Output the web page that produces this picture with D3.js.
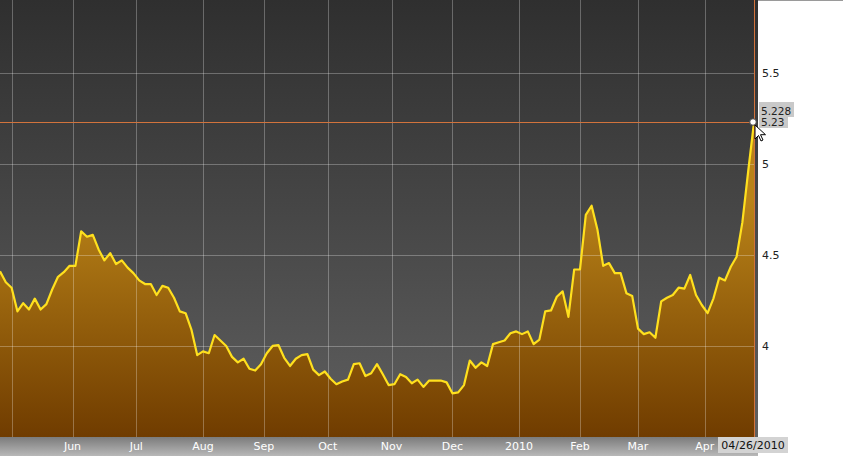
<!DOCTYPE html>
<html>
<head>
<meta charset="utf-8">
<script src="https://cdn.jsdelivr.net/npm/d3@7"></script>
<style>
  html, body { margin: 0; padding: 0; background: #ffffff; }
  svg { display: block; }
  text { font-family: "DejaVu Sans", Verdana, sans-serif; }
</style>
</head>
<body>
<svg id="chart" width="843" height="458"></svg>
<script>
// ---------- data ----------
const startDate = "2009-04-27";   // first trading day shown
const endDate = "2010-04-26";     // last trading day shown
const sampleStep = 2;             // trading days between consecutive values
const values = [
  4.41, 4.35, 4.32, 4.19, 4.235, 4.20, 4.26, 4.20, 4.23, 4.31,
  4.38, 4.405, 4.44, 4.44, 4.63, 4.60, 4.61, 4.53, 4.47, 4.51,
  4.45, 4.47, 4.43, 4.40, 4.36, 4.34, 4.34, 4.28, 4.33, 4.32,
  4.265, 4.19, 4.18, 4.09, 3.95, 3.97, 3.96, 4.06, 4.03, 4.00,
  3.94, 3.91, 3.93, 3.875, 3.865, 3.90, 3.96, 4.00, 4.005, 3.935,
  3.89, 3.93, 3.95, 3.955, 3.87, 3.84, 3.86, 3.82, 3.79, 3.805,
  3.815, 3.90, 3.905, 3.835, 3.85, 3.90, 3.845, 3.785, 3.79, 3.845,
  3.83, 3.795, 3.815, 3.775, 3.81, 3.81, 3.81, 3.80, 3.74, 3.745,
  3.785, 3.92, 3.88, 3.91, 3.89, 4.01, 4.02, 4.03, 4.07, 4.08,
  4.065, 4.08, 4.01, 4.035, 4.19, 4.195, 4.27, 4.30, 4.16, 4.42,
  4.42, 4.72, 4.77, 4.64, 4.44, 4.455, 4.40, 4.40, 4.29, 4.275,
  4.095, 4.065, 4.075, 4.045, 4.245, 4.265, 4.28, 4.32, 4.315, 4.39,
  4.28, 4.225, 4.18, 4.26, 4.375, 4.36, 4.435, 4.49, 4.68, 4.96,
  5.228
];
const monthTickDates = ["2009-05-01","2009-06-01","2009-07-01","2009-08-01","2009-09-01","2009-10-01",
                        "2009-11-01","2009-12-01","2010-01-01","2010-02-01","2010-03-01","2010-04-01"];
const monthTickLabels = ["", "Jun", "Jul", "Aug", "Sep", "Oct", "Nov", "Dec", "2010", "Feb", "Mar", "Apr"];
const yTicks = [4, 4.5, 5, 5.5];
const yTickLabels = ["4", "4.5", "5", "5.5"];
const lastValueLabel = "5.228";
const crosshairValue = 5.23;
const crosshairLabel = "5.23";
const crosshairDateLabel = "04/26/2010";

// ---------- helpers ----------
const parse = d3.timeParse("%Y-%m-%d");
const t0 = parse(startDate);
function tradingIndex(dateStr) {
  const d = parse(dateStr);
  return d3.timeDay.range(t0, d).filter(x => x.getDay() !== 0 && x.getDay() !== 6).length;
}

// ---------- layout ----------
const W = 843, H = 458;
const plotLeft = 0, plotRight = 754, plotTop = 0, plotBottom = 437;
const bgRight = 758;
const stripBottom = 456;

const svg = d3.select("#chart");
const defs = svg.append("defs");

const x = d3.scaleLinear().domain([0, tradingIndex(endDate)]).range([plotLeft, plotRight]);
const y = d3.scaleLinear().domain([3.5, 5.9]).range([plotBottom, plotTop]);

// gradients
const bgGrad = defs.append("linearGradient").attr("id", "bgGrad")
  .attr("x1", 0).attr("y1", 0).attr("x2", 0).attr("y2", 1);
bgGrad.append("stop").attr("offset", "0%").attr("stop-color", "#2f2f2f");
bgGrad.append("stop").attr("offset", "100%").attr("stop-color", "#5f5f5f");

const areaGrad = defs.append("linearGradient").attr("id", "areaGrad")
  .attr("gradientUnits", "userSpaceOnUse")
  .attr("x1", 0).attr("y1", 200).attr("x2", 0).attr("y2", plotBottom);
areaGrad.append("stop").attr("offset", "0%").attr("stop-color", "#b98318");
areaGrad.append("stop").attr("offset", "100%").attr("stop-color", "#703c00");

const stripGrad = defs.append("linearGradient").attr("id", "stripGrad")
  .attr("x1", 0).attr("y1", 0).attr("x2", 0).attr("y2", 1);
stripGrad.append("stop").attr("offset", "0%").attr("stop-color", "#7b7b7b");
stripGrad.append("stop").attr("offset", "100%").attr("stop-color", "#b8b8b8");

// background
svg.append("rect").attr("x", 0).attr("y", plotTop).attr("width", bgRight).attr("height", plotBottom - plotTop)
  .attr("fill", "url(#bgGrad)");
svg.append("line").attr("x1", bgRight).attr("x2", W).attr("y1", 0.5).attr("y2", 0.5)
  .attr("stroke", "#9a9a9a").attr("stroke-width", 1);

// area + line
const pts = values.map((v, k) => ({ i: k * sampleStep, v }));
const area = d3.area().x(d => x(d.i)).y0(plotBottom).y1(d => y(d.v));
const line = d3.line().x(d => x(d.i)).y(d => y(d.v));

svg.append("path").datum(pts).attr("d", area).attr("fill", "url(#areaGrad)");

// grid lines (over the area)
const grid = svg.append("g");
grid.selectAll("line.h").data(yTicks).join("line")
  .attr("x1", 0).attr("x2", plotRight)
  .attr("y1", d => Math.round(y(d)) + 0.5).attr("y2", d => Math.round(y(d)) + 0.5)
  .attr("stroke", "rgba(255,255,255,0.28)").attr("stroke-width", 1.2);
grid.selectAll("line.v").data(monthTickDates).join("line")
  .attr("x1", d => Math.round(x(tradingIndex(d))) + 0.5).attr("x2", d => Math.round(x(tradingIndex(d))) + 0.5)
  .attr("y1", 0).attr("y2", plotBottom)
  .attr("stroke", "rgba(255,255,255,0.28)").attr("stroke-width", 1);

svg.append("path").datum(pts).attr("d", line)
  .attr("fill", "none").attr("stroke", "#ffe01e").attr("stroke-width", 2.2)
  .attr("stroke-linejoin", "round");

// crosshair
const cx = x(tradingIndex(endDate)), cy = y(crosshairValue);
svg.append("line").attr("x1", 0).attr("x2", cx).attr("y1", Math.round(cy) + 0.5).attr("y2", Math.round(cy) + 0.5)
  .attr("stroke", "#d2733c").attr("stroke-width", 1);
svg.append("line").attr("x1", Math.round(cx) + 0.5).attr("x2", Math.round(cx) + 0.5).attr("y1", 0).attr("y2", plotBottom)
  .attr("stroke", "#d2733c").attr("stroke-width", 1);

// bottom axis strip
svg.append("rect").attr("x", 0).attr("y", plotBottom).attr("width", bgRight).attr("height", stripBottom - plotBottom)
  .attr("fill", "url(#stripGrad)");
svg.append("g").selectAll("text").data(monthTickDates).join("text")
  .attr("x", d => x(tradingIndex(d)))
  .attr("y", 450)
  .attr("text-anchor", "middle")
  .attr("font-size", 11)
  .attr("fill", "#ffffff")
  .text((d, i) => monthTickLabels[i]);

// right axis labels
svg.append("g").selectAll("text").data(yTicks).join("text")
  .attr("x", 762).attr("y", d => y(d) + 4)
  .attr("font-size", 11).attr("fill", "#222222")
  .text((d, i) => yTickLabels[i]);

// last value / crosshair value labels
svg.append("rect").attr("x", 759).attr("y", 102).attr("width", 35).attr("height", 15).attr("fill", "#c9c9c9");
svg.append("text").attr("x", 761).attr("y", 114.5).attr("font-size", 10.5).attr("fill", "#222").text(lastValueLabel);
svg.append("rect").attr("x", 759).attr("y", 116).attr("width", 29).attr("height", 12).attr("fill", "#c9c9c9");
svg.append("text").attr("x", 761).attr("y", 125.5).attr("font-size", 10.5).attr("fill", "#222").text(crosshairLabel);

// date label
svg.append("rect").attr("x", 718).attr("y", plotBottom).attr("width", 70).attr("height", 16).attr("fill", "#d3d3d3");
svg.append("text").attr("x", 753).attr("y", 449).attr("text-anchor", "middle")
  .attr("font-size", 11).attr("fill", "#111").text(crosshairDateLabel);

// hover marker
svg.append("circle").attr("cx", cx - 1).attr("cy", cy).attr("r", 3.3)
  .attr("fill", "#ffffff").attr("stroke", "#444").attr("stroke-width", 1);

// mouse pointer
const px = cx + 1, py = cy + 3;
svg.append("path")
  .attr("d", `M${px},${py} l0,14 l3.5,-3.5 l2.5,5.5 l2,-1 l-2.5,-5.3 l5,0 Z`)
  .attr("fill", "#ffffff").attr("stroke", "#000").attr("stroke-width", 1).attr("stroke-linejoin", "round");
</script>
</body>
</html>
